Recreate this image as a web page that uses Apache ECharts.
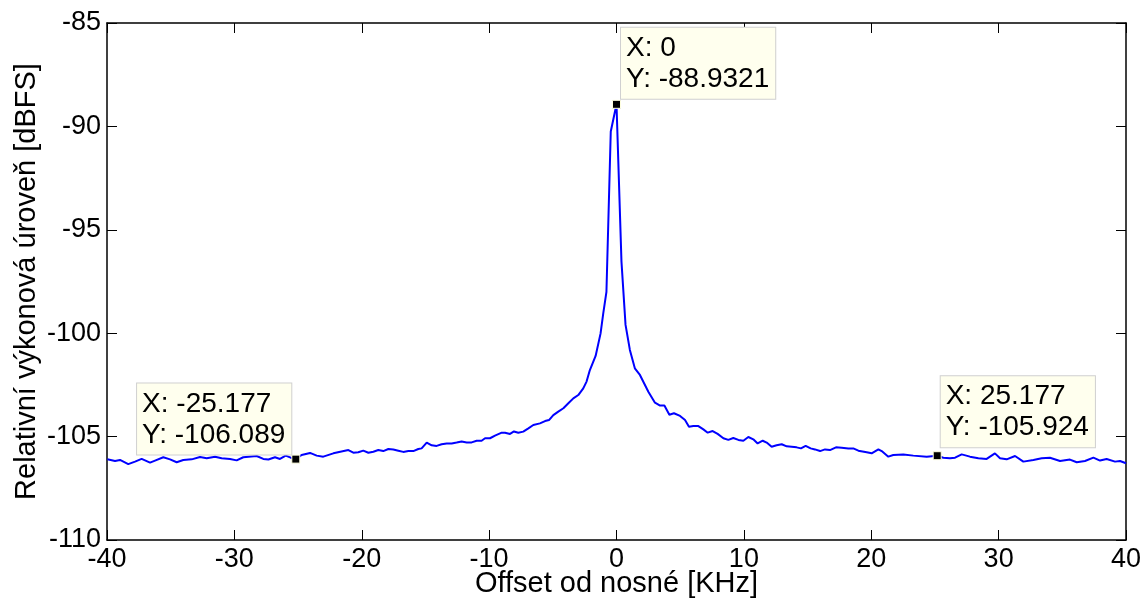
<!DOCTYPE html>
<html>
<head>
<meta charset="utf-8">
<script src="https://cdn.jsdelivr.net/npm/echarts@6/dist/echarts.min.js"></script>
<style>
  html, body { margin: 0; padding: 0; background: #fff; }
  #chart { width: 1144px; height: 601px; }
</style>
</head>
<body>
<div id="chart"></div>
<script>
// offset od nosné [kHz] and relative level [dBFS]
const freqKHz = [
  -39.97, -39.37, -38.98, -38.33, -37.80, -37.28, -36.62, -36.23, -35.58, -35.05,
  -34.53, -34.01, -33.35, -32.70, -32.17, -31.52, -31.00, -30.34, -29.82, -29.30,
  -28.25, -27.73, -27.33, -26.81, -26.42, -25.97, -25.58, -25.177, -24.72, -24.06,
  -23.54, -23.02, -22.23, -21.05, -20.66, -20.27, -19.88, -19.48, -19.09, -18.70,
  -18.31, -17.91, -17.52, -17.13, -16.74, -16.34, -15.95, -15.56, -15.30, -14.90,
  -14.51, -14.12, -13.73, -13.33, -12.94, -12.55, -12.16, -11.76, -11.37, -10.98,
  -10.59, -10.32, -9.93, -9.54, -9.01, -8.75, -8.36, -8.05, -7.71, -7.32,
  -6.92, -6.53, -6.01, -5.61, -5.30, -4.96, -4.57, -4.17, -3.78, -3.39,
  -3.00, -2.61, -2.35, -2.09, -1.64, -1.25, -1.04, -0.79, -0.45, 0,
  0.39, 0.71, 1.05, 1.44, 1.84, 2.50, 3.02, 3.42, 3.76, 4.15,
  4.51, 4.99, 5.38, 5.69, 6.03, 6.43, 6.82, 7.16, 7.55, 7.94,
  8.39, 8.78, 9.17, 9.57, 9.96, 10.35, 10.74, 11.08, 11.48, 11.79,
  12.18, 12.57, 12.97, 13.36, 13.75, 14.14, 14.48, 14.85, 15.24, 15.58,
  15.98, 16.37, 16.76, 17.23, 17.68, 18.20, 18.59, 18.99, 19.64, 20.03,
  20.56, 20.82, 21.34, 21.73, 22.52, 23.30, 24.35, 25.177, 25.66, 26.18,
  26.58, 27.10, 27.75, 28.41, 29.06, 29.71, 30.11, 30.63, 31.29, 31.94,
  32.73, 33.38, 34.03, 34.82, 35.60, 36.13, 36.78, 37.44, 37.96, 38.48,
  39.14, 39.53, 40.00
];
const levelDb = [
  -106.10, -106.18, -106.13, -106.33, -106.21, -106.08, -106.26, -106.16, -106.00, -106.10,
  -106.24, -106.13, -106.10, -105.99, -106.05, -105.97, -106.05, -106.08, -106.15, -106.00,
  -105.94, -106.08, -106.11, -106.00, -106.08, -105.92, -106.02, -106.089, -105.89, -105.79,
  -105.92, -105.97, -105.81, -105.65, -105.78, -105.76, -105.68, -105.78, -105.73, -105.65,
  -105.70, -105.60, -105.62, -105.68, -105.74, -105.70, -105.70, -105.60, -105.57, -105.29,
  -105.42, -105.45, -105.37, -105.33, -105.33, -105.29, -105.24, -105.28, -105.28, -105.20,
  -105.20, -105.08, -105.08, -104.95, -104.81, -104.81, -104.87, -104.75, -104.81, -104.76,
  -104.60, -104.44, -104.36, -104.25, -104.20, -103.96, -103.79, -103.63, -103.39, -103.15,
  -102.99, -102.67, -102.34, -101.78, -101.10, -100.01, -99.04, -98.00, -90.25, -88.9321,
  -96.54, -99.60, -100.81, -101.70, -102.02, -102.83, -103.36, -103.50, -103.50, -103.94,
  -103.87, -104.00, -104.20, -104.52, -104.49, -104.49, -104.65, -104.81, -104.73, -104.87,
  -105.08, -105.16, -105.07, -105.16, -105.20, -105.02, -105.13, -105.33, -105.20, -105.29,
  -105.49, -105.42, -105.37, -105.47, -105.49, -105.52, -105.57, -105.45, -105.57, -105.62,
  -105.70, -105.62, -105.65, -105.52, -105.54, -105.57, -105.57, -105.68, -105.76, -105.81,
  -105.62, -105.70, -105.97, -105.89, -105.86, -105.92, -105.97, -105.924, -106.02, -106.05,
  -106.02, -105.86, -105.97, -106.05, -106.08, -105.81, -106.05, -106.10, -105.94, -106.21,
  -106.13, -106.05, -106.02, -106.18, -106.11, -106.24, -106.18, -106.02, -106.16, -106.08,
  -106.21, -106.18, -106.29
];

// data tips
const tipX = [0, -25.177, 25.177];
const tipY = [-88.9321, -106.089, -105.924];
const tipText = [
  '{t|X: 0}\n{t|Y: -88.9321}',
  '{t|X: -25.177}\n{t|Y: -106.089}',
  '{t|X: 25.177}\n{t|Y: -105.924}'
];

const xTicks = { min: -40, max: 40, interval: 10 };
const yTicks = { min: -110, max: -85, interval: 5 };

const font = 'Arial, "Liberation Sans", sans-serif';

const chart = echarts.init(document.getElementById('chart'), null, { renderer: 'canvas' });

const tipPlacement = [
  { position: [9, -1], align: 'left' },
  { position: [0, 0], align: 'right' },
  { position: [8, -4], align: 'left' }
];

const lineAxis = { show: true, onZero: false, lineStyle: { color: '#000', width: 1.5 } };
const inTick = { show: true, inside: true, length: 10, lineStyle: { color: '#000', width: 1 } };

const option = {
  animation: false,
  backgroundColor: '#fff',
  grid: { left: 107, right: 18, top: 23, bottom: 61, outerBoundsMode: 'none', containLabel: false },
  xAxis: [
    {
      type: 'value', min: xTicks.min, max: xTicks.max, interval: xTicks.interval,
      name: 'Offset od nosné [KHz]', nameLocation: 'middle', nameGap: 29, nameMoveOverlap: false,
      nameTextStyle: { fontFamily: font, fontSize: 29, color: '#000' },
      axisLine: lineAxis, axisTick: inTick,
      axisLabel: { fontFamily: font, fontSize: 27, color: '#000', margin: 6 },
      splitLine: { show: false }
    },
    {
      type: 'value', position: 'top', min: xTicks.min, max: xTicks.max, interval: xTicks.interval,
      axisLine: lineAxis, axisTick: inTick, axisLabel: { show: false }, splitLine: { show: false }
    }
  ],
  yAxis: [
    {
      type: 'value', min: yTicks.min, max: yTicks.max, interval: yTicks.interval,
      name: 'Relativní výkonová úroveň [dBFS]', nameLocation: 'middle', nameGap: 66, nameMoveOverlap: false,
      nameTextStyle: { fontFamily: font, fontSize: 29, color: '#000' },
      axisLine: lineAxis, axisTick: inTick,
      axisLabel: { fontFamily: font, fontSize: 27, color: '#000', margin: 6 },
      splitLine: { show: false }
    },
    {
      type: 'value', position: 'right', min: yTicks.min, max: yTicks.max, interval: yTicks.interval,
      axisLine: lineAxis, axisTick: inTick, axisLabel: { show: false }, splitLine: { show: false }
    }
  ],
  series: [
    {
      type: 'line',
      data: freqKHz.map((f, i) => [f, levelDb[i]]),
      showSymbol: false,
      clip: true,
      lineStyle: { color: '#0000ff', width: 2 },
      z: 2
    },
    {
      type: 'scatter',
      symbol: 'rect',
      symbolSize: 8,
      itemStyle: { color: '#000', borderColor: '#ffffe0', borderWidth: 1, opacity: 1 },
      data: tipX.map((x, i) => ({
        value: [x, tipY[i]],
        label: {
          show: true,
          formatter: tipText[i],
          position: tipPlacement[i].position,
          align: tipPlacement[i].align,
          verticalAlign: 'bottom'
        }
      })),
      label: {
        color: '#000',
        backgroundColor: '#ffffee', borderColor: '#d0d0d0', borderWidth: 1,
        padding: [5, 6, 4, 5],
        rich: {
          t: { fontFamily: font, fontSize: 28, lineHeight: 31, color: '#000', align: 'left' }
        }
      },
      emphasis: { disabled: true },
      z: 5
    }
  ]
};

chart.setOption(option);
</script>
</body>
</html>
